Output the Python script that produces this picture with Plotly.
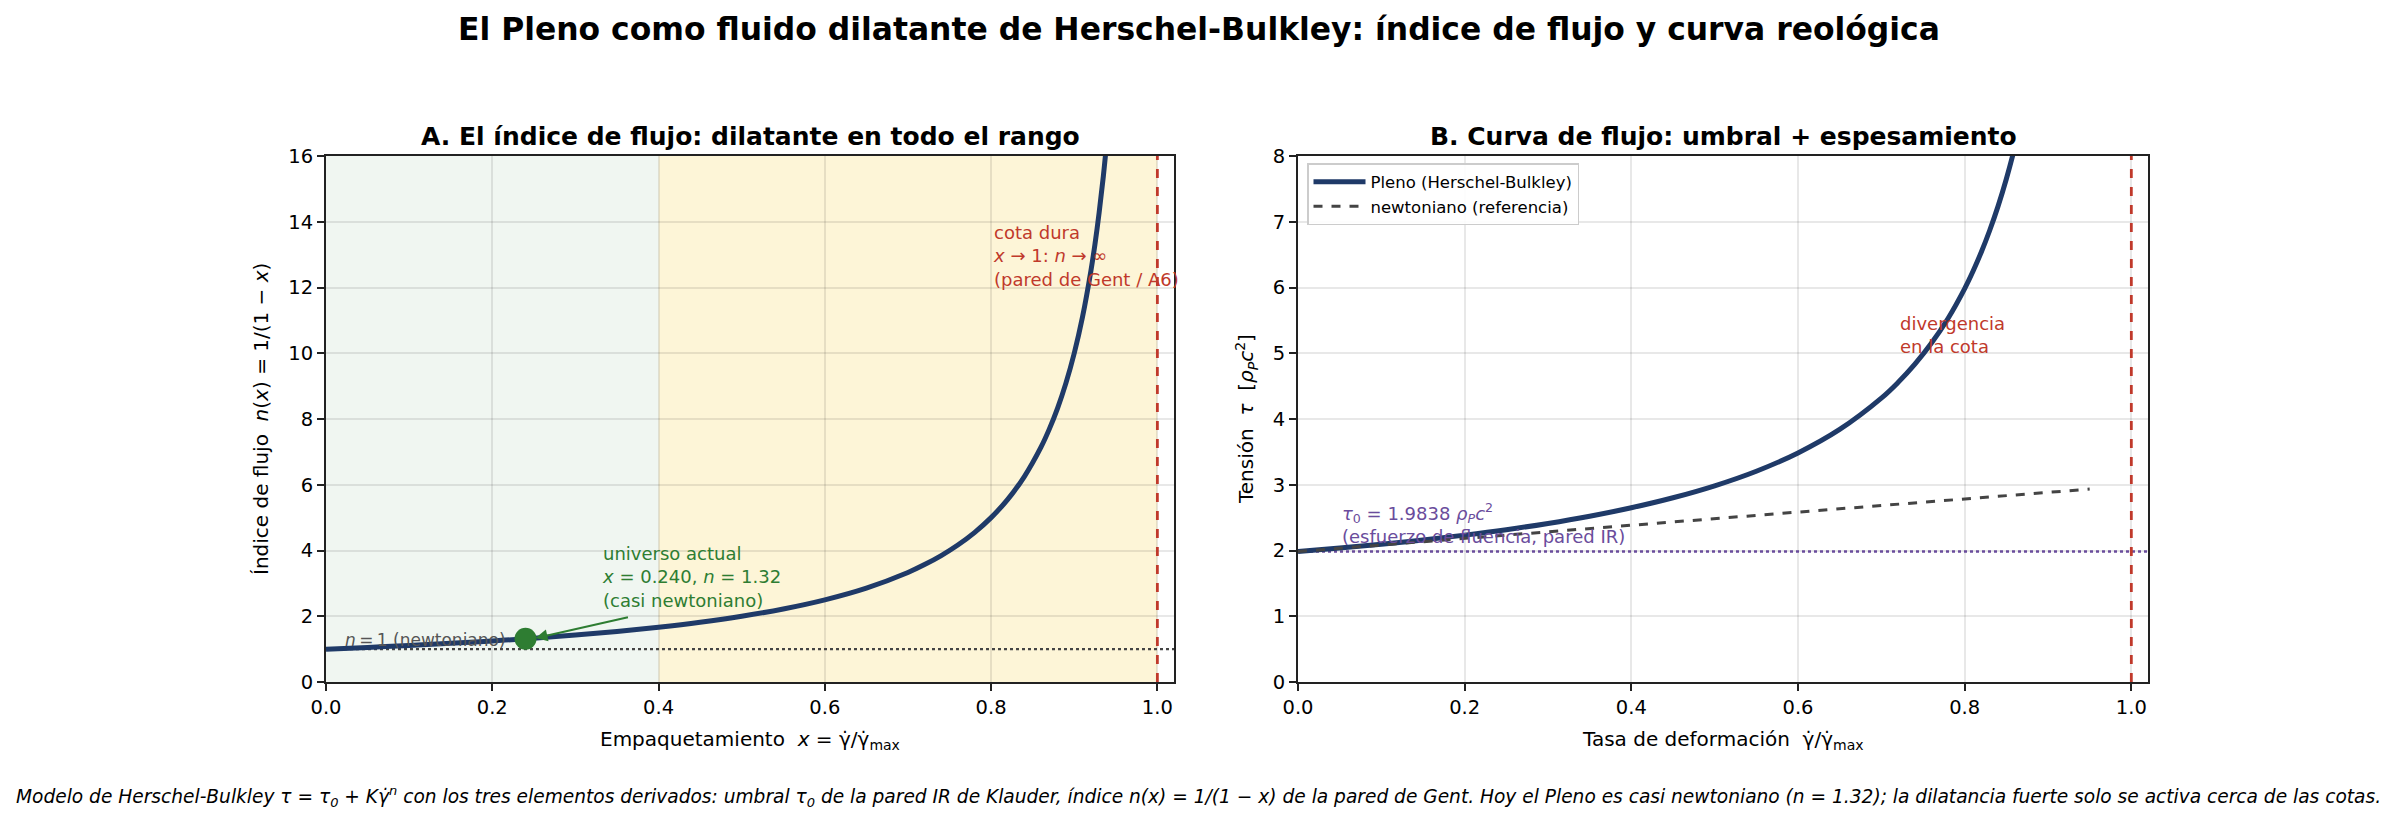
import plotly.graph_objects as go

# ---------------- data ----------------
# Panel A: flow index n(x)
x_pack = [0.0, 0.05, 0.10, 0.15, 0.20, 0.25, 0.30, 0.35, 0.40, 0.45, 0.50, 0.55,
          0.60, 0.65, 0.70, 0.72, 0.74, 0.76, 0.78, 0.80, 0.82, 0.84, 0.86,
          0.87, 0.88, 0.89, 0.90, 0.91, 0.92, 0.925, 0.93, 0.935, 0.94]
n_flow = [1.000, 1.053, 1.111, 1.176, 1.250, 1.333, 1.429, 1.538, 1.667, 1.818,
          2.000, 2.222, 2.500, 2.857, 3.333, 3.571, 3.846, 4.167, 4.545, 5.000,
          5.556, 6.250, 7.143, 7.692, 8.333, 9.091, 10.00, 11.11, 12.50, 13.33,
          14.29, 15.38, 16.67]
x_now = [0.240]
n_now = [1.3158]
n_newton = 1.0
x_wall = 1.0
zone_green = [0.0, 0.4]
zone_yellow = [0.4, 1.0]

# Panel B: flow curve
g_rate = [0.0, 0.05, 0.10, 0.15, 0.20, 0.25, 0.30, 0.35, 0.40, 0.45, 0.50, 0.55,
          0.60, 0.65, 0.70, 0.72, 0.74, 0.76, 0.78, 0.80, 0.81, 0.82, 0.83,
          0.84, 0.85, 0.86, 0.87]
tau_pleno = [1.984, 2.037, 2.095, 2.160, 2.234, 2.317, 2.412, 2.522, 2.650,
             2.802, 2.984, 3.206, 3.484, 3.841, 4.317, 4.555, 4.830, 5.151,
             5.529, 5.984, 6.247, 6.540, 6.867, 7.234, 7.651, 8.127, 8.676]
g_newt = [0.0, 0.95]
tau_newt = [1.984, 2.934]
tau0 = 1.9838

# ---------------- styling ----------------
NAVY = "#1f3a68"
RED = "#c0392b"
GREEN = "#2e7d32"
PURPLE = "#6a4c9c"
DGRAY = "#444444"
FONT = "DejaVu Sans"

W, H = 2397, 823
def px(xp): return xp / W
def py(yp): return 1 - yp / H

fig = go.Figure()

# Panel A traces
fig.add_trace(go.Scatter(x=[0, 1.02], y=[n_newton, n_newton], mode="lines",
                         line=dict(color=DGRAY, width=2.2, dash="dot"),
                         showlegend=False, xaxis="x", yaxis="y", hoverinfo="skip"))
fig.add_trace(go.Scatter(x=x_pack, y=n_flow, mode="lines", line=dict(color=NAVY, width=5, shape="spline"),
                         showlegend=False, xaxis="x", yaxis="y"))
fig.add_trace(go.Scatter(x=x_now, y=n_now, mode="markers",
                         marker=dict(color=GREEN, size=22, line=dict(width=0)),
                         showlegend=False, xaxis="x", yaxis="y"))

# Panel B traces
fig.add_trace(go.Scatter(x=[0, 1.02], y=[tau0, tau0], mode="lines",
                         line=dict(color=PURPLE, width=2.6, dash="dot"),
                         showlegend=False, xaxis="x2", yaxis="y2", hoverinfo="skip"))
fig.add_trace(go.Scatter(x=g_rate, y=tau_pleno, mode="lines", name="Pleno (Herschel-Bulkley)",
                         line=dict(color=NAVY, width=5, shape="spline"), xaxis="x2", yaxis="y2"))
fig.add_trace(go.Scatter(x=g_newt, y=tau_newt, mode="lines", name="newtoniano (referencia)",
                         line=dict(color=DGRAY, width=3, dash="dash"), xaxis="x2", yaxis="y2"))

shapes = [
    dict(type="rect", xref="x", yref="y", x0=zone_green[0], x1=zone_green[1], y0=0, y1=16,
         fillcolor="rgba(46,125,50,0.07)", line=dict(width=0), layer="below"),
    dict(type="rect", xref="x", yref="y", x0=zone_yellow[0], x1=zone_yellow[1], y0=0, y1=16,
         fillcolor="rgba(241,196,15,0.17)", line=dict(width=0), layer="below"),
    dict(type="line", xref="x", yref="y", x0=x_wall, x1=x_wall, y0=0, y1=16,
         line=dict(color=RED, width=2.8, dash="dash")),
    dict(type="line", xref="x2", yref="y2", x0=x_wall, x1=x_wall, y0=0, y1=8,
         line=dict(color=RED, width=2.8, dash="dash")),
]

ann = []
# titles
ann.append(dict(text="<b>El Pleno como fluido dilatante de Herschel-Bulkley: índice de flujo y curva reológica</b>",
                x=0.5, y=py(29), xref="paper", yref="paper", showarrow=False,
                font=dict(size=31.4, family=FONT, color="black"), xanchor="center", yanchor="middle"))
ann.append(dict(text="<b>A. El índice de flujo: dilatante en todo el rango</b>",
                x=px(750), y=py(136), xref="paper", yref="paper", showarrow=False,
                font=dict(size=25, family=FONT, color="black"), xanchor="center", yanchor="middle"))
ann.append(dict(text="<b>B. Curva de flujo: umbral + espesamiento</b>",
                x=px(1723), y=py(136), xref="paper", yref="paper", showarrow=False,
                font=dict(size=25, family=FONT, color="black"), xanchor="center", yanchor="middle"))
# axis titles
ann.append(dict(text="Empaquetamiento  <i>x</i> = γ̇/γ̇<sub>max</sub>",
                x=px(750), y=py(740), xref="paper", yref="paper", showarrow=False,
                font=dict(size=20, family=FONT, color="black"), xanchor="center", yanchor="middle"))
ann.append(dict(text="Tasa de deformación  γ̇/γ̇<sub>max</sub>",
                x=px(1723), y=py(740), xref="paper", yref="paper", showarrow=False,
                font=dict(size=20, family=FONT, color="black"), xanchor="center", yanchor="middle"))
ann.append(dict(text="Índice de flujo  <i>n</i>(<i>x</i>) = 1/(1 − <i>x</i>)",
                x=px(261), y=py(419), xref="paper", yref="paper", showarrow=False, textangle=-90,
                font=dict(size=20, family=FONT, color="black"), xanchor="center", yanchor="middle"))
ann.append(dict(text="Tensión  <i>τ</i>  [<i>ρ</i><sub><i>P</i></sub><i>c</i><sup>2</sup>]",
                x=px(1246), y=py(419), xref="paper", yref="paper", showarrow=False, textangle=-90,
                font=dict(size=20, family=FONT, color="black"), xanchor="center", yanchor="middle"))
# caption
ann.append(dict(text="<i>Modelo de Herschel-Bulkley τ = τ<sub>0</sub> + Kγ̇<sup>n</sup> con los tres elementos derivados: umbral τ<sub>0</sub> de la pared IR de Klauder, índice n(x) = 1/(1 − x) de la pared de Gent. Hoy el Pleno es casi newtoniano (n = 1.32); la dilatancia fuerte solo se activa cerca de las cotas.</i>",
                x=0.5, y=py(796), xref="paper", yref="paper", showarrow=False,
                font=dict(size=18.6, family=FONT, color="black"), xanchor="center", yanchor="middle"))
# panel A annotations
ann.append(dict(text="<i>n</i>\u2009=\u20091 (newtoniano)", x=0.02, y=0.92, xref="x", yref="y", showarrow=False,
                font=dict(size=17, family=FONT, color="#555555"), xanchor="left", yanchor="bottom", align="left"))
ann.append(dict(text="universo actual<br><i>x</i> = 0.240, <i>n</i> = 1.32<br>(casi newtoniano)",
                x=0.33, y=2.1, xref="x", yref="y", showarrow=False,
                font=dict(size=18, family=FONT, color=GREEN), xanchor="left", yanchor="bottom", align="left"))
ann.append(dict(text="", x=x_now[0] + 0.012, y=n_now[0] + 0.02, xref="x", yref="y",
                ax=0.365, ay=1.98, axref="x", ayref="y", showarrow=True,
                arrowhead=2, arrowsize=1.2, arrowwidth=2, arrowcolor=GREEN))
ann.append(dict(text="cota dura<br><i>x</i> → 1: <i>n</i> → ∞<br>(pared de Gent / A6)",
                x=0.80, y=11.85, xref="x", yref="y", showarrow=False,
                font=dict(size=18, family=FONT, color=RED), xanchor="left", yanchor="bottom", align="left"))
# panel B annotations
ann.append(dict(text="<i>τ</i><sub>0</sub> = 1.9838 <i>ρ</i><sub><i>P</i></sub><i>c</i><sup>2</sup><br>(esfuerzo de fluencia, pared IR)",
                x=0.05, y=2.03, xref="x2", yref="y2", showarrow=False,
                font=dict(size=18, family=FONT, color=PURPLE), xanchor="left", yanchor="bottom", align="left"))
ann.append(dict(text="divergencia<br>en la cota",
                x=0.72, y=4.92, xref="x2", yref="y2", showarrow=False,
                font=dict(size=18, family=FONT, color=RED), xanchor="left", yanchor="bottom", align="left"))

axis_common = dict(showline=True, linecolor="#222222", linewidth=2, mirror=True, automargin=False,
                   ticks="outside", ticklen=7, tickwidth=1.6, tickcolor="#222222",
                   tickfont=dict(size=19.5, family=FONT, color="black"),
                   showgrid=True, gridcolor="rgba(0,0,0,0.09)", gridwidth=1.5, zeroline=False)

yd = [py(682), py(156)]
fig.update_layout(
    width=W, height=H, margin=dict(l=0, r=0, t=0, b=0, autoexpand=False),
    paper_bgcolor="white", plot_bgcolor="white",
    font=dict(family=FONT, color="black"),
    xaxis=dict(domain=[px(326), px(1174)], range=[0, 1.02], tickvals=[0, 0.2, 0.4, 0.6, 0.8, 1.0],
               ticktext=["0.0", "0.2", "0.4", "0.6", "0.8", "1.0"], anchor="y", **axis_common),
    yaxis=dict(domain=yd, range=[0, 16], tickvals=list(range(0, 17, 2)), anchor="x", **axis_common),
    xaxis2=dict(domain=[px(1298), px(2148)], range=[0, 1.02], tickvals=[0, 0.2, 0.4, 0.6, 0.8, 1.0],
                ticktext=["0.0", "0.2", "0.4", "0.6", "0.8", "1.0"], anchor="y2", **axis_common),
    yaxis2=dict(domain=yd, range=[0, 8], tickvals=list(range(0, 9)), anchor="x2", **axis_common),
    shapes=shapes, annotations=ann,
    legend=dict(x=px(1307), y=py(163), xanchor="left", yanchor="top",
                bgcolor="rgba(255,255,255,0.9)", bordercolor="#cccccc", borderwidth=1.5,
                font=dict(size=16.5, family=FONT, color="black"), tracegroupgap=0, itemwidth=52),
)

fig.write_html("out.html")
